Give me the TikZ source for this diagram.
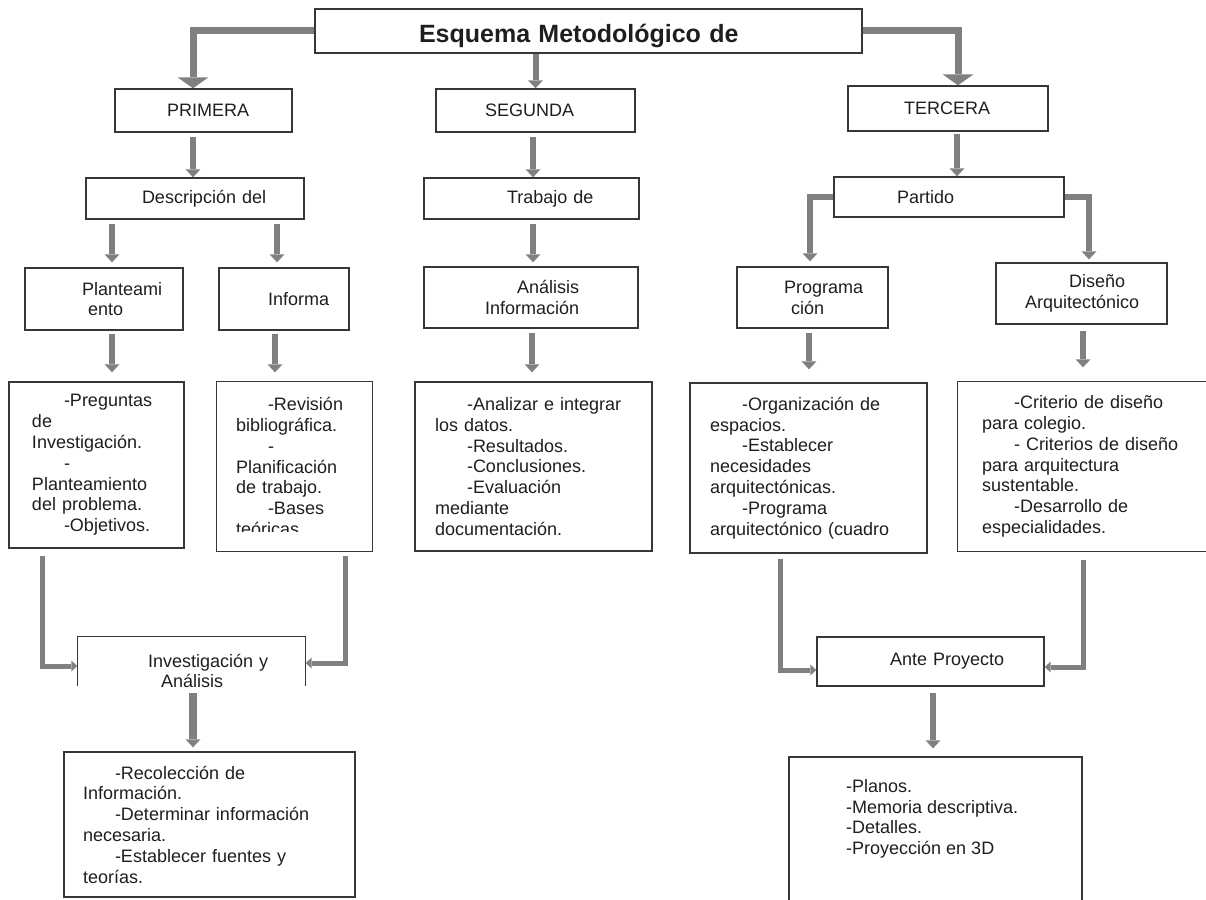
\documentclass[tikz,border=0pt]{standalone}
\usepackage{fontspec}
\setmainfont{Liberation Sans}
\usetikzlibrary{arrows.meta}
\definecolor{linegray}{RGB}{128,128,128}
\definecolor{edgegray}{RGB}{55,55,55}
\definecolor{ink}{RGB}{30,30,30}
\newcommand{\indt}{\hspace*{32pt}}

\begin{document}
\begin{tikzpicture}[x=1pt, y=-1pt,
    rim/.style={draw=edgegray, line width=1.4pt},
    txt/.style={text=ink, font=\fontsize{18}{20.8}\selectfont},
    cbox/.style={rim, txt, rectangle, inner xsep=0pt, inner ysep=0pt, align=left},
    arr/.style={draw=linegray, line width=6pt, line join=miter,
                -{Triangle[width=15pt,length=8pt,line width=0pt]}},
    bigarr/.style={draw=linegray, line width=7pt, line join=miter,
                -{Triangle[width=31pt,length=11pt,line width=0pt]}},
    sidearr/.style={draw=linegray, line width=5pt, line join=miter,
                -{Triangle[width=11pt,length=6pt,line width=0pt]}}]
  \useasboundingbox (0,0) rectangle (1206,899);

  % title and the three stages
  \node[cbox, text width=547pt, minimum height=44pt, text height=24pt, text depth=0pt,
        font=\bfseries\fontsize{25}{30}\selectfont] (title) at (588.5,31) {\hspace*{104pt}Esquema Metodológico de};
  \node[cbox, text width=177pt, minimum height=43pt] (prim) at (203.5,110.5) {\hspace*{52pt}PRIMERA};
  \node[cbox, text width=199pt, minimum height=43pt] (seg)  at (535.5,110.5) {\hspace*{49pt}SEGUNDA};
  \node[cbox, text width=200pt, minimum height=45pt] (ter)  at (948,108.5)   {\hspace*{56pt}TERCERA};

  \node[cbox, text width=218pt, minimum height=41pt] (desc) at (195,198.5)   {\hspace*{56pt}Descripción del};
  \node[cbox, text width=215pt, minimum height=41pt] (trab) at (531.5,198.5) {\hspace*{83pt}Trabajo de};
  \node[cbox, text width=230pt, minimum height=40pt] (part) at (949,197)     {\hspace*{63pt}Partido};

  \node[cbox, text width=158pt, minimum height=62pt] (plan) at (104,299)     {\hspace*{57pt}Planteami\\\hspace*{63pt}ento};
  \node[cbox, text width=130pt, minimum height=62pt] (inf)  at (284,299)     {\hspace*{49pt}Informa};
  \node[cbox, text width=214pt, minimum height=61pt] (anal) at (531,297.5)   {\hspace*{93pt}Análisis\\\hspace*{61pt}Información};
  \node[cbox, text width=151pt, minimum height=61pt] (prog) at (812.5,297.5) {\hspace*{47pt}Programa\\\hspace*{54pt}ción};
  \node[cbox, text width=171pt, minimum height=61pt] (dis)  at (1081.5,293.5) {\hspace*{73pt}Diseño\\\hspace*{29pt}Arquitectónico};

  % lists
  \node[cbox, text width=175pt, minimum height=166pt] (preg) at (96.5,465)
    {\leftskip=23pt \indt-Preguntas\\de\\Investigación.\\\indt-\\Planteamiento\\del problema.\\\indt-Objetivos.\par};
  \begin{scope}
    \clip (200,370) rectangle (390,531);
    \node[cbox, draw=none, text width=155pt, minimum height=169pt] (rev) at (294.5,466.5)
      {\leftskip=19pt \indt-Revisión\\bibliográfica.\\\indt-\\Planificación\\de trabajo.\\\indt-Bases\\teóricas.\par};
  \end{scope}
  \draw[rim] (rev.south west) rectangle (rev.north east);
  \node[cbox, text width=237pt, minimum height=169pt] (analist) at (533.5,466.5)
    {\leftskip=20pt \indt-Analizar e integrar\\los datos.\\\indt-Resultados.\\\indt-Conclusiones.\\\indt-Evaluación\\mediante\\documentación.\par};
  \node[cbox, text width=237pt, minimum height=170pt] (org) at (808.5,468)
    {\leftskip=20pt \indt-Organización de\\espacios.\\\indt-Establecer\\necesidades\\arquitectónicas.\\\indt-Programa\\arquitectónico (cuadro\par};
  \begin{scope}
    \clip (940,370) rectangle (1230,536);
    \node[cbox, draw=none, text width=260pt, minimum height=169pt] (crit) at (1088,466.5)
      {\leftskip=24pt \indt-Criterio de diseño\\para colegio.\\\indt- Criterios de diseño\\para arquitectura\\sustentable.\\\indt-Desarrollo de\\especialidades.\par};
  \end{scope}
  \draw[rim] (crit.south west) rectangle (crit.north east);

  % lower level
  \node[cbox, draw=none, text width=227pt, minimum height=68pt] (inv) at (191.5,671)
    {\hspace*{70pt}Investigación y\\\hspace*{83pt}Análisis};
  \draw[rim] ([yshift=20pt]inv.south west) -- (inv.north west) -- (inv.north east) -- ([yshift=20pt]inv.south east);
  \node[cbox, text width=291pt, minimum height=145pt] (rec) at (209.5,824.5)
    {\leftskip=19pt \indt-Recolección de\\Información.\\\indt-Determinar información\\necesaria.\\\indt-Establecer fuentes y\\teorías.\par};
  \node[cbox, text width=227pt, minimum height=49pt] (ante) at (930.5,661.5) {\hspace*{73pt}Ante Proyecto};
  \node[cbox, text width=293pt, minimum height=170pt] (planos) at (935.5,842) {};
  \node[txt, anchor=north west, inner sep=0pt, align=left] (planlist) at (846,779)
    {-Planos.\\-Memoria descriptiva.\\-Detalles.\\-Proyección en 3D};

  % connectors
  \draw[bigarr] (title.west) -| ([xshift=-10.5pt]prim.north);
  \draw[arr] ([xshift=-53pt]title.south) -- (seg.north);
  \draw[bigarr] (title.east) -| ([xshift=10pt]ter.north);

  \draw[arr] ([xshift=-10.5pt,yshift=-4pt]prim.south) -- ([xshift=-2pt]desc.north);
  \draw[arr] ([xshift=-2.5pt,yshift=-4pt]seg.south) -- ([xshift=1.5pt]trab.north);
  \draw[arr] ([xshift=9pt,yshift=-2pt]ter.south) -- ([xshift=8pt]part.north);

  \draw[arr] ([xshift=-83pt,yshift=-4pt]desc.south) -- ([xshift=8pt,yshift=5pt]plan.north);
  \draw[arr] ([xshift=82pt,yshift=-4pt]desc.south) -- ([xshift=-7pt,yshift=5pt]inf.north);
  \draw[arr] ([xshift=1.5pt,yshift=-4pt]trab.south) -- ([xshift=2pt,yshift=4pt]anal.north);
  \draw[arr] (part.west) -| ([xshift=-2.5pt,yshift=5pt]prog.north);
  \draw[arr] (part.east) -| ([xshift=7.5pt,yshift=3pt]dis.north);

  \draw[arr] ([xshift=8pt,yshift=-3pt]plan.south) -- ([xshift=15.5pt,yshift=9pt]preg.north);
  \draw[arr] ([xshift=-9pt,yshift=-3pt]inf.south) -- ([xshift=-19.5pt,yshift=9pt]rev.north);
  \draw[arr] ([xshift=1pt,yshift=-4pt]anal.south) -- ([xshift=-1.5pt,yshift=9pt]analist.north);
  \draw[arr] ([xshift=-3.5pt,yshift=-4pt]prog.south) -- ([xshift=0.5pt,yshift=13pt]org.north);
  \draw[arr] ([xshift=1.5pt,yshift=-6pt]dis.south) -- ([xshift=-5pt,yshift=14pt]crit.north);

  \draw[sidearr] ([xshift=-54.5pt,yshift=-7pt]preg.south) |- ([yshift=5pt]inv.west);
  \draw[sidearr] ([xshift=50.5pt,yshift=-4pt]rev.south) |- ([yshift=8pt]inv.east);
  \draw[arr, line width=8pt] ([xshift=1.5pt,yshift=13pt]inv.south) -- ([xshift=-16.5pt,yshift=4pt]rec.north);

  \draw[sidearr] ([xshift=-28.5pt,yshift=-5pt]org.south) |- ([yshift=-8.5pt]ante.west);
  \draw[sidearr] ([xshift=-5pt,yshift=-8pt]crit.south) |- ([yshift=-5.5pt]ante.east);
  \draw[arr] ([xshift=2.5pt,yshift=-6pt]ante.south) -- ([xshift=-2.5pt,yshift=8pt]planos.north);
\end{tikzpicture}
\end{document}
